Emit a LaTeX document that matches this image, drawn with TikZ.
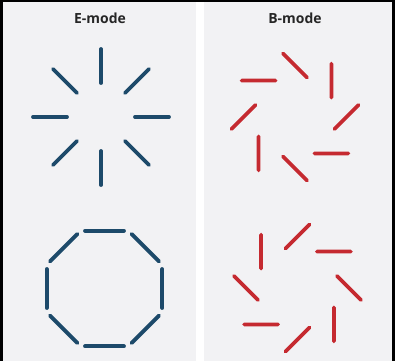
\documentclass[tikz,border=0pt]{standalone}
\usepackage{fontspec}
\setmainfont{Open Sans}
\definecolor{emblue}{HTML}{1D4A6A}
\definecolor{bmred}{HTML}{C52A30}
\definecolor{panelgray}{HTML}{F2F2F4}
\begin{document}
\begin{tikzpicture}[x=1bp,y=-1bp,
  seg/.style={line width=3.8bp, line cap=round},
  eseg/.style={seg, draw=emblue},
  bseg/.style={seg, draw=bmred},
  title/.style={font=\fontsize{14}{16}\selectfont\bfseries, text=black!85, inner sep=0pt}]
\useasboundingbox (0,0) rectangle (395,361);
% frame and panels
\fill[black] (0,0) rectangle (395,361);
\fill[white] (3,2) rectangle (392,361);
\fill[panelgray] (3,2) rectangle (196,361);
\fill[panelgray] (204,2) rectangle (392,361);
% titles
\node[title] (etitle) at (100,18) {E-mode};
\node[title] (btitle) at (295,18) {B-mode};
% E-mode radial pattern
\begin{scope}[shift={(101,117)}, yscale=-1]
  \foreach \a in {0,45,...,315}
    \draw[eseg, rotate=\a] (34,0) -- (68,0);
\end{scope}
% E-mode tangential pattern
\begin{scope}[shift={(104.5,288.5)}, yscale=-1]
  \foreach \a in {0,45,...,315}
    \draw[eseg, rotate=\a] (57.7,0) ++(90:19.5) -- ++(-90:39);
\end{scope}
% B-mode pattern (counter-clockwise tilt)
\begin{scope}[shift={(295,117)}, yscale=-1]
  \foreach \a in {0,45,...,315}
    \draw[bseg, rotate=\a] (51.5,0) ++(45:17) -- ++(225:34);
\end{scope}
% B-mode pattern (clockwise tilt)
\begin{scope}[shift={(297.5,288)}, yscale=-1]
  \foreach \a in {0,45,...,315}
    \draw[bseg, rotate=\a] (51.5,0) ++(-45:17) -- ++(135:34);
\end{scope}
\end{tikzpicture}
\end{document}
